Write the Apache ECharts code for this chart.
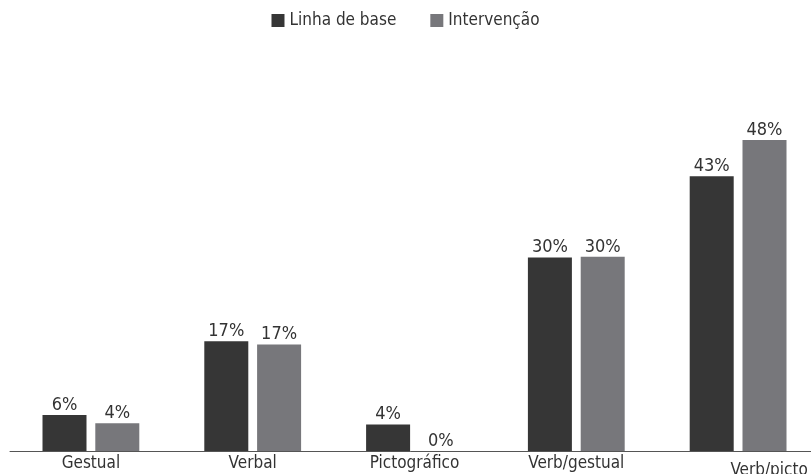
<!DOCTYPE html>
<html>
<head>
<meta charset="utf-8">
<script src="https://cdn.jsdelivr.net/npm/echarts@6/dist/echarts.min.js"></script>
<style>
html,body{margin:0;padding:0;background:#fff;}
#chart{width:811px;height:474px;}
</style>
</head>
<body>
<div id="chart"></div>
<script>
// categorias
var categories = ['Gestual', 'Verbal', 'Pictográfico', 'Verb/gestual', 'Verb/picto'];
// valores (%)
var linhaBase = [5.6, 17.0, 4.1, 30.0, 42.6];
var intervencao = [4.3, 16.5, 0, 30.1, 48.2];
var seriesNames = ['Linha de base', 'Intervenção'];

var fontFam = '"DejaVu Sans Condensed", "Roboto", sans-serif';

var chart = echarts.init(document.getElementById('chart'));
var labelStyle = {
    show: true,
    position: 'top',
    distance: 1,
    color: '#333',
    fontSize: 18,
    fontFamily: fontFam,
    formatter: function (p) { return Math.round(p.value) + '%'; }
};
var option = {
    animation: false,
    legend: {
        top: 7,
        left: 'center',
        itemWidth: 13,
        itemHeight: 13,
        itemGap: 34,
        icon: 'rect',
        data: seriesNames,
        textStyle: { color: '#333', fontSize: 17, fontFamily: fontFam }
    },
    grid: { left: 10, top: 64, width: 809, bottom: 23, containLabel: false, outerBoundsMode: 'none' },
    xAxis: {
        type: 'category',
        data: categories,
        axisLine: { lineStyle: { color: '#555', width: 1 } },
        axisTick: { show: false },
        axisLabel: {
            color: '#333',
            fontSize: 17,
            fontFamily: fontFam,
            margin: 4,
            formatter: function (v, i) {
                return i === 4 ? '{p|' + v + '}' : v;
            },
            rich: {
                p: { fontSize: 17, fontFamily: fontFam, color: '#333', padding: [7, 0, 0, 62] }
            }
        }
    },
    yAxis: {
        type: 'value',
        min: 0,
        max: 60,
        show: false
    },
    series: [
        {
            name: seriesNames[0],
            type: 'bar',
            data: linhaBase,
            barWidth: 44,
            barGap: '20%',
            itemStyle: { color: '#363636' },
            label: labelStyle
        },
        {
            name: seriesNames[1],
            type: 'bar',
            data: intervencao,
            barWidth: 44,
            itemStyle: { color: '#77777b' },
            label: labelStyle
        }
    ]
};
chart.setOption(option);
</script>
</body>
</html>
